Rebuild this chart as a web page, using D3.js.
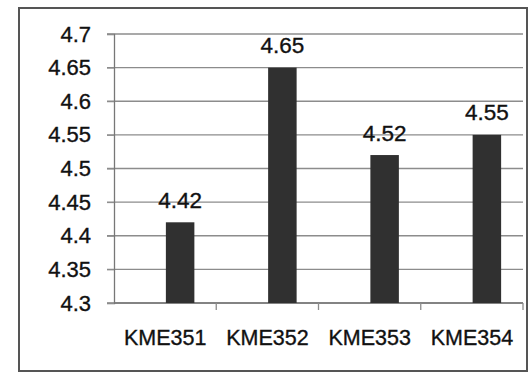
<!DOCTYPE html>
<html>
<head>
<meta charset="utf-8">
<script src="https://cdn.jsdelivr.net/npm/d3@7"></script>
<style>
  html, body { margin: 0; padding: 0; background: #fff; }
  svg { display: block; }
  text { font-family: "Liberation Sans", Arial, sans-serif; fill: #111; stroke: #111; stroke-width: 0.35px; }
</style>
</head>
<body>
<svg id="chart" width="530" height="374"></svg>
<script>
const categories = ["KME351", "KME352", "KME353", "KME354"];
const values = [4.42, 4.65, 4.52, 4.55];
const yTicks = [4.3, 4.35, 4.4, 4.45, 4.5, 4.55, 4.6, 4.65, 4.7];

(function () {
const svg = d3.select("#chart");
const mLeft = 114, mRight = 523, mTop = 34, mBottom = 303;

// outer frame
svg.append("rect")
  .attr("x", 19).attr("y", 8)
  .attr("width", 508).attr("height", 363)
  .attr("fill", "none")
  .attr("stroke", "#555")
  .attr("stroke-width", 2);

const x = d3.scaleBand().domain(categories).range([mLeft, mRight]);
const barX = d3.scaleBand().domain(categories).range([mLeft + 15, mRight + 15]);
const y = d3.scaleLinear().domain([4.3, 4.7]).range([mBottom, mTop]);

// gridlines
svg.append("g")
  .selectAll("line")
  .data(yTicks)
  .join("line")
  .attr("x1", mLeft - 7).attr("x2", mRight)
  .attr("y1", d => y(d)).attr("y2", d => y(d))
  .attr("stroke", "#8c8c8c")
  .attr("stroke-width", 1.3);

// y axis
const yAxis = d3.axisLeft(y).tickValues(yTicks)
  .tickFormat(d => String(+d.toFixed(2)))
  .tickSize(7).tickPadding(16);
const yg = svg.append("g").attr("transform", `translate(${mLeft},0)`).call(yAxis);
yg.select(".domain").attr("stroke", "#777").attr("stroke-width", 1.3);
yg.selectAll(".tick line").attr("stroke", "#8c8c8c");
yg.selectAll(".tick text")
  .style("font-size", "22px")
  .style("font-family", '"Liberation Sans", Arial, sans-serif')
  .attr("fill", "#111");

// x axis
const xAxis = d3.axisBottom(x).tickSize(0).tickPadding(0);
const xg = svg.append("g").attr("transform", `translate(0,${mBottom})`).call(xAxis);
xg.select(".domain").remove();
svg.append("line")
  .attr("x1", mLeft).attr("x2", mRight)
  .attr("y1", mBottom).attr("y2", mBottom)
  .attr("stroke", "#777").attr("stroke-width", 1.3);
// boundary tick marks
svg.append("g").selectAll("line")
  .data(categories)
  .join("line")
  .attr("x1", d => x(d) + x.bandwidth()).attr("x2", d => x(d) + x.bandwidth())
  .attr("y1", mBottom).attr("y2", mBottom + 7)
  .attr("stroke", "#8c8c8c").attr("stroke-width", 1.3);
xg.selectAll(".tick text")
  .attr("dy", 0).attr("y", 42)
  .style("font-size", "21.5px")
  .style("font-family", '"Liberation Sans", Arial, sans-serif')
  .attr("fill", "#111");

// bars
const bw = 28.5;
svg.append("g").selectAll("rect")
  .data(values)
  .join("rect")
  .attr("x", (d, i) => barX(categories[i]) + barX.bandwidth() / 2 - bw / 2)
  .attr("y", d => y(d))
  .attr("width", bw)
  .attr("height", d => mBottom - y(d))
  .attr("fill", "#303030");

// value labels
svg.append("g").selectAll("text")
  .data(values)
  .join("text")
  .attr("x", (d, i) => barX(categories[i]) + barX.bandwidth() / 2)
  .attr("y", d => y(d) - 14.5)
  .attr("text-anchor", "middle")
  .style("font-size", "22.5px")
  .text(d => d.toFixed(2));
})();
</script>
</body>
</html>
